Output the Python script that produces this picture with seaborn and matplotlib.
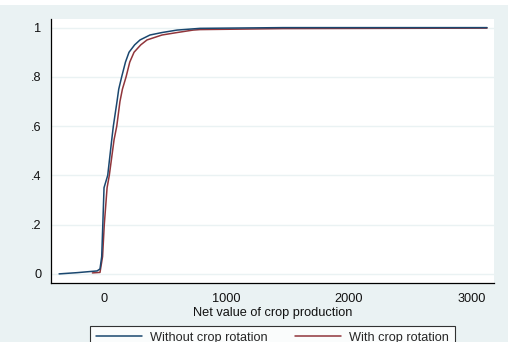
import matplotlib
matplotlib.use("Agg")
import matplotlib.pyplot as plt
import seaborn as sns
import pandas as pd
from matplotlib.patches import Rectangle

# ECDF of net value of crop production
without_x = [-367, -220, -57, -33, -19, -10, 0, 30, 63, 76, 106, 120, 144, 175,
             204, 250, 294, 375, 473, 596, 784, 1461, 3127]
without_y = [0.0, 0.005, 0.012, 0.02, 0.07, 0.2, 0.35, 0.4, 0.545, 0.6, 0.7, 0.75,
             0.8, 0.86, 0.9, 0.93, 0.95, 0.97, 0.98, 0.99, 0.997, 1.0, 1.0]

with_x = [-95, -33, -12, 2, 25, 43, 82, 104, 130, 150, 180, 210, 245, 300, 351,
          473, 596, 727, 784, 1461, 3127]
with_y = [0.004, 0.006, 0.07, 0.2, 0.35, 0.4, 0.545, 0.6, 0.7, 0.75, 0.8, 0.86,
          0.9, 0.93, 0.95, 0.97, 0.98, 0.99, 0.992, 0.996, 0.998]

series_labels = ["Without crop rotation", "With crop rotation"]
x_ticks = [0, 1000, 2000, 3000]
y_ticks = [0, 0.2, 0.4, 0.6, 0.8, 1.0]
y_ticklabels = ["0", ".2", ".4", ".6", ".8", "1"]

sns.set_style("white")
plt.rcParams["font.family"] = ["Liberation Sans", "DejaVu Sans"]

BG = "#EAF2F3"
FS = 9.2
W, H = 518, 342
fig = plt.figure(figsize=(W / 100, H / 100), dpi=100, facecolor="white")
# Stata-like outer background (white margin top and right)
fig.patches.append(Rectangle((0, 0), 508 / W, (H - 5) / H, transform=fig.transFigure,
                             facecolor=BG, edgecolor="none", zorder=-10))

ax = fig.add_axes([51 / W, (H - 283) / H, (494 - 51) / W, (283 - 19) / H])
ax.set_facecolor("white")

df_without = pd.DataFrame({"x": without_x, "y": without_y})
df_with = pd.DataFrame({"x": with_x, "y": with_y})

sns.lineplot(data=df_with, x="x", y="y", estimator=None, sort=False,
             color="#90353B", lw=1.1, ax=ax, label=series_labels[1])
sns.lineplot(data=df_without, x="x", y="y", estimator=None, sort=False,
             color="#1A476F", lw=1.1, ax=ax, label=series_labels[0])

ax.set_xlim(-433, 3184)
ax.set_ylim(-0.037, 1.035)
ax.set_xticks(x_ticks)
ax.set_yticks(y_ticks)
ax.set_yticklabels(y_ticklabels)
ax.grid(axis="y", color=BG, lw=1.0)
ax.set_axisbelow(True)

for s in ["top", "right"]:
    ax.spines[s].set_visible(False)
for s in ["left", "bottom"]:
    ax.spines[s].set_color("#000000")
    ax.spines[s].set_linewidth(0.9)

ax.tick_params(axis="both", direction="out", length=3.6, width=0.8, color="#333333",
               labelsize=FS, labelcolor="#111111", pad=3.3)
ax.set_xlabel("Net value of crop production", fontsize=FS, labelpad=1.8, color="#111111")
ax.set_ylabel("")

handles, labels = ax.get_legend_handles_labels()
order = [labels.index(series_labels[0]), labels.index(series_labels[1])]
if ax.get_legend():
    ax.get_legend().remove()
leg = fig.legend([handles[i] for i in order], [labels[i] for i in order],
                 loc="upper left", bbox_to_anchor=(90 / W, (H - 326) / H),
                 ncol=2, frameon=True, fancybox=False, fontsize=FS,
                 handlelength=3.6, handletextpad=0.62, columnspacing=2.2,
                 borderpad=0.45, borderaxespad=0)
leg.get_frame().set_edgecolor("#000000")
leg.get_frame().set_linewidth(0.8)
leg.get_frame().set_facecolor("white")

fig.savefig("out.png", dpi=100, facecolor="white")
